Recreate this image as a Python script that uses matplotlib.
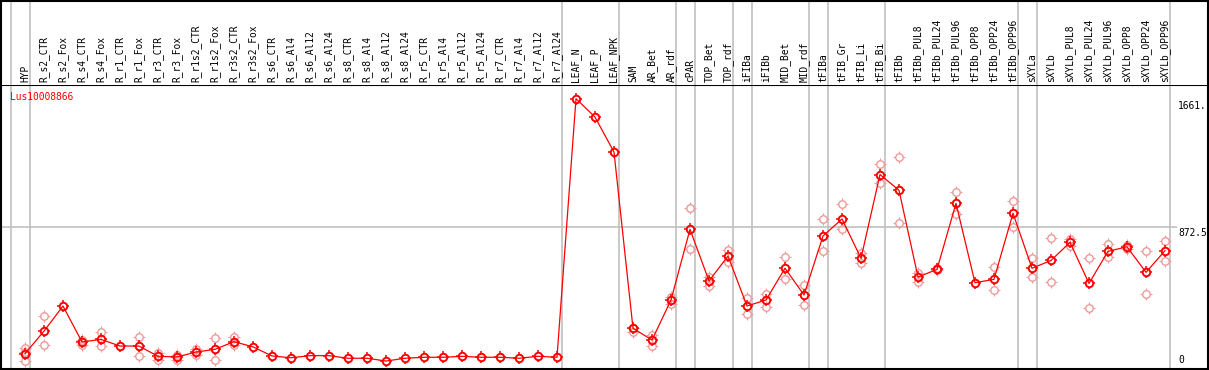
import numpy as np
import matplotlib.pyplot as plt
from matplotlib.path import Path

# Sample names (x axis)
samples = ["HYP", "R_s2_CTR", "R_s2_Fox", "R_s4_CTR", "R_s4_Fox", "R_r1_CTR", "R_r1_Fox",
           "R_r3_CTR", "R_r3_Fox", "R_r1s2_CTR", "R_r1s2_Fox", "R_r3s2_CTR", "R_r3s2_Fox",
           "R_s6_CTR", "R_s6_Al4", "R_s6_Al12", "R_s6_Al24", "R_s8_CTR", "R_s8_Al4",
           "R_s8_Al12", "R_s8_Al24", "R_r5_CTR", "R_r5_Al4", "R_r5_Al12", "R_r5_Al24",
           "R_r7_CTR", "R_r7_Al4", "R_r7_Al12", "R_r7_Al24", "LEAF_N", "LEAF_P", "LEAF_NPK",
           "SAM", "AR_Bet", "AR_rdf", "cPAR", "TOP_Bet", "TOP_rdf", "iFIBa", "iFIBb",
           "MID_Bet", "MID_rdf", "tFIBa", "tFIB_Gr", "tFIB_Li", "tFIB_Bi", "tFIBb",
           "tFIBb_PUL8", "tFIBb_PUL24", "tFIBb_PUL96", "tFIBb_OPP8", "tFIBb_OPP24",
           "tFIBb_OPP96", "sXYLa", "sXYLb", "sXYLb_PUL8", "sXYLb_PUL24", "sXYLb_PUL96",
           "sXYLb_OPP8", "sXYLb_OPP24", "sXYLb_OPP96"]

# mean expression
mean_expr = [94, 233, 387, 166, 182, 141, 141, 78, 74, 104, 121, 168, 136,
             80, 69, 82, 82, 66, 66, 49, 66, 72, 72, 78, 72, 72, 66, 78, 72,
             1661, 1548, 1333, 250, 178, 424, 858, 541, 694, 387, 424, 619, 455,
             817, 922, 680, 1195, 1098, 565, 612, 1018, 530, 551, 957,
             619, 667, 778, 526, 723, 751, 594, 727]

nan = np.nan
# replicate values (high / low / extra)
rep_hi = [127, 326, nan, 178, 227, nan, 199, 96, 86, 121, 190, 195, nan,
          nan, nan, nan, nan, nan, nan, nan, nan, nan, nan, nan, nan, nan, nan, nan, nan,
          nan, nan, nan, 253, 209, 444, 987, 567, 731, 434, 459, 690, 516,
          922, 1012, 711, 1260, 1300, 592, 618, 1086, nan, 625, 1030,
          684, 803, 799, 680, 768, 760, 727, 784]
rep_lo = [52, 146, nan, 146, 141, nan, 82, 55, 55, 88, 55, 146, nan,
          nan, nan, nan, nan, nan, nan, nan, nan, nan, nan, nan, nan, nan, nan, nan, nan,
          nan, nan, nan, 229, 143, 397, 735, 512, 659, 336, 383, 551, 391,
          723, 858, 653, 1141, 895, 537, 606, 950, nan, 485, 874,
          567, 532, 756, 373, 686, 735, 459, 665]
rep_extra = {0: 104}

# last sample index of each group (separator lines)
group_ends = [-1, 0, 28, 31, 34, 35, 37, 38, 41, 42, 45, 52, 53, 60]

gene = "Lus10008866"
y_max_label = "1661."
y_mid = 872.5
y_top = 1745

# small ticks around the circle markers
tick_marker = Path([(0, 0.68), (0, 1), (0, -0.68), (0, -1), (0.68, 0), (1, 0), (-0.68, 0), (-1, 0)],
                   [Path.MOVETO, Path.LINETO] * 4)


def dots(ax, xs, ys, col, mew, z, **kw):
    ax.plot(xs, ys, ls="none", marker="o", ms=5.4, mfc="none", mec=col, mew=mew, zorder=z, **kw)
    ax.plot(xs, ys, ls="none", marker=tick_marker, ms=8.2, mfc="none", mec=col, mew=mew * 0.8, zorder=z)


W, H = 1209, 370
fig = plt.figure(figsize=(W / 100, H / 100), dpi=100)
ax = fig.add_axes([1 / W, 1 / H, 1207 / W, 284 / H])
hax = fig.add_axes([1 / W, 285 / H, 1207 / W, 84 / H], sharex=ax)

x = np.arange(len(samples))
xmin, xmax = (1 - 25) / 19, (1208 - 25) / 19

for e in group_ends:
    for a in (ax, hax):
        a.axvline(e + 0.28, color="#c0c0c0", lw=1.2, zorder=0)
ax.hlines(y_mid, xmin, (1177 - 25) / 19, color="#c0c0c0", lw=1.2, zorder=0)

rep_col = "#ee9a9a"
dots(ax, x, rep_hi, rep_col, 1.0, 1)
dots(ax, x, rep_lo, rep_col, 1.0, 1)
for i, v in rep_extra.items():
    dots(ax, [i], [v], rep_col, 1.0, 1)
ax.plot(x, mean_expr, color="red", lw=0.9, zorder=2)
dots(ax, x, mean_expr, "red", 1.4, 3)

ax.set_xlim(xmin, xmax)
ax.set_ylim(0, y_top)
ax.set_xticks([])
ax.set_yticks([])
hax.set_ylim(0, 1)
hax.set_yticks([])
hax.tick_params(bottom=False, labelbottom=False)
for a in (ax, hax):
    for s in a.spines.values():
        s.set_color("black")
        s.set_linewidth(1.5)
hax.spines["bottom"].set_visible(False)

font = dict(family="DejaVu Sans Mono", fontsize=6.9)
for i, name in enumerate(samples):
    hax.text(i, 0.03, name, rotation=90, ha="center", va="bottom", **font)

ax.text(xmin + 0.47, 1661 + 10, gene, color="red", ha="left", va="center", **font)
lx = (1178 - 25) / 19
ax.annotate(y_max_label, (lx, 1661), xytext=(0, -2), textcoords="offset points",
            ha="left", va="top", **font)
ax.annotate(str(y_mid), (lx, y_mid), xytext=(0, -0.5), textcoords="offset points",
            ha="left", va="top", **font)
ax.annotate("0", (lx, 0), xytext=(0, 3), textcoords="offset points",
            ha="left", va="bottom", **font)

fig.savefig("out.png", dpi=100)
